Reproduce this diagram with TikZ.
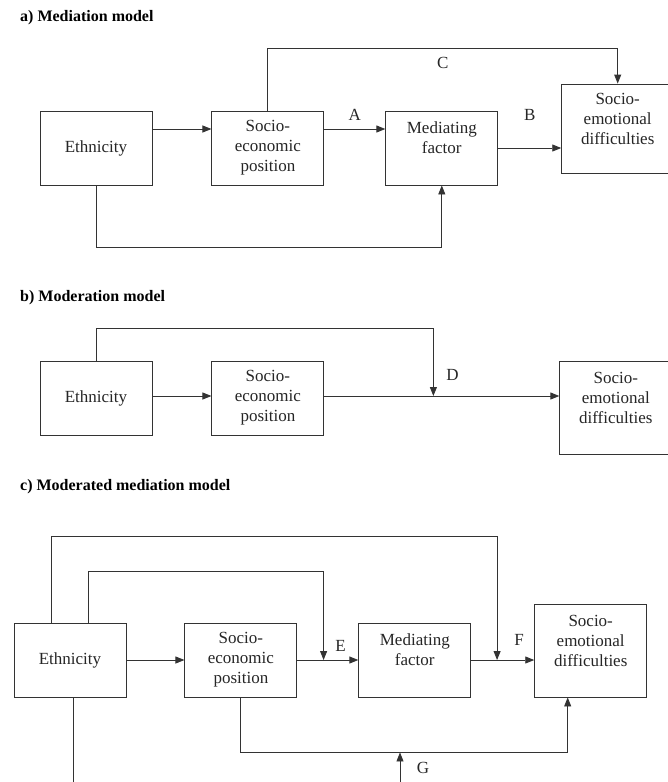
\documentclass[tikz,border=0pt]{standalone}
\usepackage{fontspec}
\setmainfont{Liberation Serif}
\usetikzlibrary{arrows.meta,positioning}

\begin{document}
\begin{tikzpicture}[x=1pt, y=-1pt,
  box/.style={draw=black!80, fill=white, line width=.9pt,
    minimum width=112pt, minimum height=74pt, inner sep=0pt,
    align=center, font=\fontsize{17}{20}\selectfont, text=black!85},
  edge/.style={-{Triangle[length=9pt,width=7pt]}, draw=black!80,
    line width=.9pt},
  link/.style={draw=black!80, line width=.9pt},
  lab/.style={font=\fontsize{17}{20}\selectfont, text=black!85,
    inner sep=0pt},
  heading/.style={anchor=west, inner sep=0pt,
    font=\fontsize{16}{19}\selectfont\bfseries}
]
\useasboundingbox (0,0) rectangle (668,782);

\node[heading] (ta) at (20,18) {a) Mediation model};
\node[box] (etha) at (96,148) {Ethnicity};
\node[box, right=59pt of etha] (sepa) {Socio-\\economic\\position};
\node[box, right=61pt of sepa] (mfa) {Mediating\\factor\\~};
\node[box, minimum height=89pt, right=63pt of mfa.north east,
  anchor=north west, yshift=27pt] (seda) {Socio-\\emotional\\difficulties\\~};

\draw[edge] ([yshift=19pt]etha.east) -- ([yshift=19pt]sepa.west);
\draw[edge] ([yshift=19pt]sepa.east)
  -- node[lab, above=8pt] (la) {A} ([yshift=19pt]sepa.east -| mfa.west);
\draw[edge] (mfa.east) -- node[lab, above=27pt] (lb) {B} (mfa.east -| seda.west);
\draw[edge] (sepa.north) -- ++(0,-62)
  -| node[lab, pos=.25, below=8pt] (lc) {C} (seda.north);
\draw[edge] (etha.south) -- ++(0,62) -| (mfa.south);

\node[heading] (tb) at (20,298) {b) Moderation model};
\node[box] (ethb) at (96,398) {Ethnicity};
\node[box, right=59pt of ethb] (sepb) {Socio-\\economic\\position};
\node[box, minimum height=93pt, right=235pt of sepb.north east,
  anchor=north west] (sedb) {Socio-\\emotional\\difficulties\\~};

\draw[edge] ([yshift=2pt]ethb.east) -- ([yshift=2pt]sepb.west);
\draw[edge] ([yshift=2pt]sepb.east)
  -- coordinate[pos=.464] (dd) ([yshift=2pt]sepb.east -| sedb.west);
\draw[edge] (ethb.north) -- ++(0,-32) -| (dd);
\node[lab] (ld) at ([shift={(19,-21)}]dd) {D};

\node[heading] (tc) at (20,487) {c) Moderated mediation model};
\node[box] (ethc) at (70,660) {Ethnicity};
\node[box, right=58pt of ethc] (sepc) {Socio-\\economic\\position};
\node[box, right=61pt of sepc] (mfc) {Mediating\\factor\\~};
\node[box, minimum height=93pt, right=63pt of mfc.south east,
  anchor=south west] (sedc) {Socio-\\emotional\\difficulties\\~};

\draw[edge] (ethc) -- (sepc);
\draw[edge] (sepc) -- coordinate[pos=.43] (ee) (mfc);
\draw[edge] (mfc.east) -- coordinate[pos=.41] (ff) (mfc.east -| sedc.west);
\draw[edge] ([xshift=18pt]ethc.north) -- ++(0,-51) -| (ee);
\draw[edge] ([xshift=-19pt]ethc.north) -- ++(0,-86) -| (ff);
\node[lab] (le) at ([shift={(17,-14)}]ee) {E};
\node[lab] (lf) at ([shift={(22,-20)}]ff) {F};
\draw[edge] (sepc.south) -- ++(0,55) coordinate (gl) -| ([xshift=-23pt]sedc.south);
\coordinate (gbot) at (400,790);
\coordinate (gg) at (gbot |- gl);
\draw[edge] (gbot) -- (gg);
\node[lab] (lg) at ([shift={(23,15)}]gg) {G};
\draw[link] ([xshift=3pt]ethc.south) -- ++(0,95);
\end{tikzpicture}
\end{document}
